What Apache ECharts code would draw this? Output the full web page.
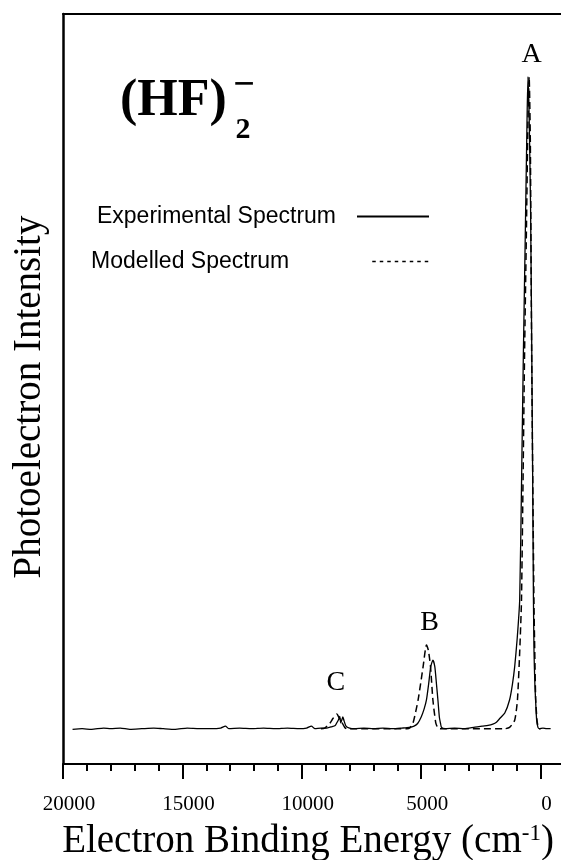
<!DOCTYPE html>
<html><head><meta charset="utf-8">
<script src="https://cdn.jsdelivr.net/npm/echarts@6/dist/echarts.min.js"></script>
<style>html,body{margin:0;padding:0;background:#fff}#c{width:561px;height:860px}</style>
</head><body><div id="c"></div>
<script>
// Electron binding energy (cm^-1), photoelectron intensity (peak A = 100)
const experimentalSpectrum = [
[19600,0.1],[19200,0.2],[18800,0.1],[18300,0.3],[18000,0.2],[17600,0.3],[17200,0.1],[16700,0.2],[16200,0.3],[15800,0.2],
[15300,0.1],[14800,0.3],[14300,0.2],[13800,0.2],[13400,0.3],[13200,0.6],[13050,0.2],[12600,0.3],[12100,0.2],[11600,0.3],
[11100,0.2],[10600,0.3],[10100,0.2],[9800,0.3],[9600,0.6],[9450,0.2],[9200,0.3],[8950,0.3],[8750,0.5],[8600,0.7],
[8520,1.2],[8450,1.7],[8410,2.1],[8370,1.1],[8320,1.6],[8280,2.0],[8230,1.4],[8150,0.6],[8000,0.3],[7800,0.2],
[7400,0.3],[7000,0.2],[6600,0.3],[6200,0.2],[5800,0.3],[5500,0.4],[5300,0.6],[5150,1.0],[5000,2.0],[4880,3.2],
[4780,4.6],[4690,7.0],[4600,9.7],[4510,10.7],[4430,9.7],[4360,7.0],[4300,4.6],[4240,2.0],[4190,1.0],[4150,0.4],
[4000,0.2],[3600,0.3],[3200,0.2],[2800,0.4],[2450,0.6],[2200,0.7],[2000,0.9],[1850,1.2],[1700,1.8],[1500,2.6],
[1300,4.6],[1180,7.0],[1085,9.7],[980,14],[875,20],[790,40],[720,58],[645,75],[570,93],[530,100],
[480,94],[420,80],[370,58],[335,40],[300,20],[276,12],[240,7],[210,4.6],[165,1.5],[110,0.4],
[50,0.2],[-100,0.3],[-250,0.2],[-420,0.2]
];
const modelledSpectrum = [
[9200,0.2],[9040,0.3],[8830,1.0],[8690,1.8],[8530,2.45],[8440,1.9],[8340,1.3],[8200,0.4],[8100,0.2],[5600,0.2],
[5480,0.3],[5340,1.1],[5130,4.6],[4920,9.7],[4780,13.0],[4700,12.2],[4610,9.7],[4510,4.6],[4390,1.1],[4300,0.3],
[4200,0.2],[1500,0.2],[1300,0.4],[1085,1.5],[970,4.6],[875,12],[800,20],[670,58],[600,75],[530,93],
[480,100],[430,90],[375,58],[280,20],[245,12],[205,4.6],[150,1.5],[100,0.4],[50,0.2],[0,0.2]
];
const peakNames = ['A','B','C'];
const peakLabelEnergy = [373, 4644, 8577];
const peakLabelIntensity = [103.4, 16.5, 7.2];
const seriesNames = ['Experimental Spectrum','Modelled Spectrum'];

const SERIF = '"Liberation Serif", "Times New Roman", serif';
const SANS = '"Liberation Sans", Arial, sans-serif';

const chart = echarts.init(document.getElementById('c'), null, {renderer:'canvas'});
chart.setOption({
  animation:false,
  backgroundColor:'#fff',
  grid:{left:63, top:14, width:597, height:750, outerBoundsMode:'none', containLabel:false},
  xAxis:[{
    type:'value', inverse:true, min:-5000, max:20000, interval:5000, position:'bottom',
    axisLine:{show:true, onZero:false, lineStyle:{color:'#000', width:2.2}},
    axisTick:{show:true, length:15, lineStyle:{color:'#000', width:2}},
    minorTick:{show:true, splitNumber:5, length:7, lineStyle:{color:'#000', width:2}},
    axisLabel:{formatter:v=> v<0?'':String(v), fontFamily:SERIF, fontSize:21, color:'#000', margin:30, padding:[0,0,0,12]},
    splitLine:{show:false}, minorSplitLine:{show:false}
  },{
    type:'value', inverse:true, min:-5000, max:20000, position:'top',
    axisLine:{show:true, onZero:false, lineStyle:{color:'#000', width:2}},
    axisTick:{show:false}, axisLabel:{show:false}, splitLine:{show:false}
  }],
  yAxis:{
    type:'value', min:-5.2, max:109.6,
    axisLine:{show:true, onZero:false, lineStyle:{color:'#000', width:2.5}},
    axisTick:{show:false}, axisLabel:{show:false}, splitLine:{show:false}
  },
  legend:[{
    data:[seriesNames[0]], right:131, top:205, align:'right', padding:0,
    itemWidth:72, itemHeight:14, selectedMode:false, itemStyle:{opacity:0},
    textStyle:{fontFamily:SANS, fontSize:23, color:'#000', padding:[0,16,0,0]}
  },{
    data:[seriesNames[1]], right:131, top:250, align:'right', padding:0,
    itemWidth:57, itemHeight:14, selectedMode:false, itemStyle:{opacity:0},
    lineStyle:{type:[3.5,4], width:1.5},
    textStyle:{fontFamily:SANS, fontSize:23, color:'#000', padding:[0,78,0,0]}
  }],
  series:[{
    name:seriesNames[0], type:'line', data:experimentalSpectrum, symbol:'none', smooth:0.2,
    lineStyle:{color:'#000', width:1.3}, itemStyle:{color:'#000'}
  },{
    name:seriesNames[1], type:'line', data:modelledSpectrum, symbol:'none', smooth:0.2,
    lineStyle:{color:'#000', width:1.5, type:[7,4]}, itemStyle:{color:'#000'}
  },{
    type:'scatter', silent:true, symbolSize:0, itemStyle:{opacity:1},
    data:peakNames.map((n,i)=>[peakLabelEnergy[i], peakLabelIntensity[i], n]),
    label:{show:true, position:'inside', opacity:1, formatter:p=>p.value[2], fontFamily:SERIF, fontSize:28, color:'#000'}
  }],
  graphic:[
    {type:'text', x:120, y:102, style:{text:'(HF)', font:'bold 52px '+SERIF, fill:'#000', align:'left', verticalAlign:'middle', textAlign:'left', textVerticalAlign:'middle'}},
    {type:'text', x:244, y:86, style:{text:'\u2212', font:'bold 38px '+SERIF, fill:'#000', align:'center', verticalAlign:'middle', textAlign:'center', textVerticalAlign:'middle'}},
    {type:'text', x:243, y:130, style:{text:'2', font:'bold 30px '+SERIF, fill:'#000', align:'center', verticalAlign:'middle', textAlign:'center', textVerticalAlign:'middle'}},
    {type:'text', x:308, y:842, style:{text:'{n|Electron Binding Energy (cm}{s|-1}{n|)}', align:'center', verticalAlign:'middle', textAlign:'center', textVerticalAlign:'middle', fill:'#000',
      rich:{n:{font:'39px '+SERIF, fill:'#000'}, s:{font:'23px '+SERIF, fill:'#000', verticalAlign:'top'}}}},
    {type:'text', x:30, y:397, rotation:Math.PI/2, style:{text:'Photoelectron Intensity', font:'39px '+SERIF, fill:'#000', align:'center', verticalAlign:'middle', textAlign:'center', textVerticalAlign:'middle'}}
  ]
});
</script></body></html>
